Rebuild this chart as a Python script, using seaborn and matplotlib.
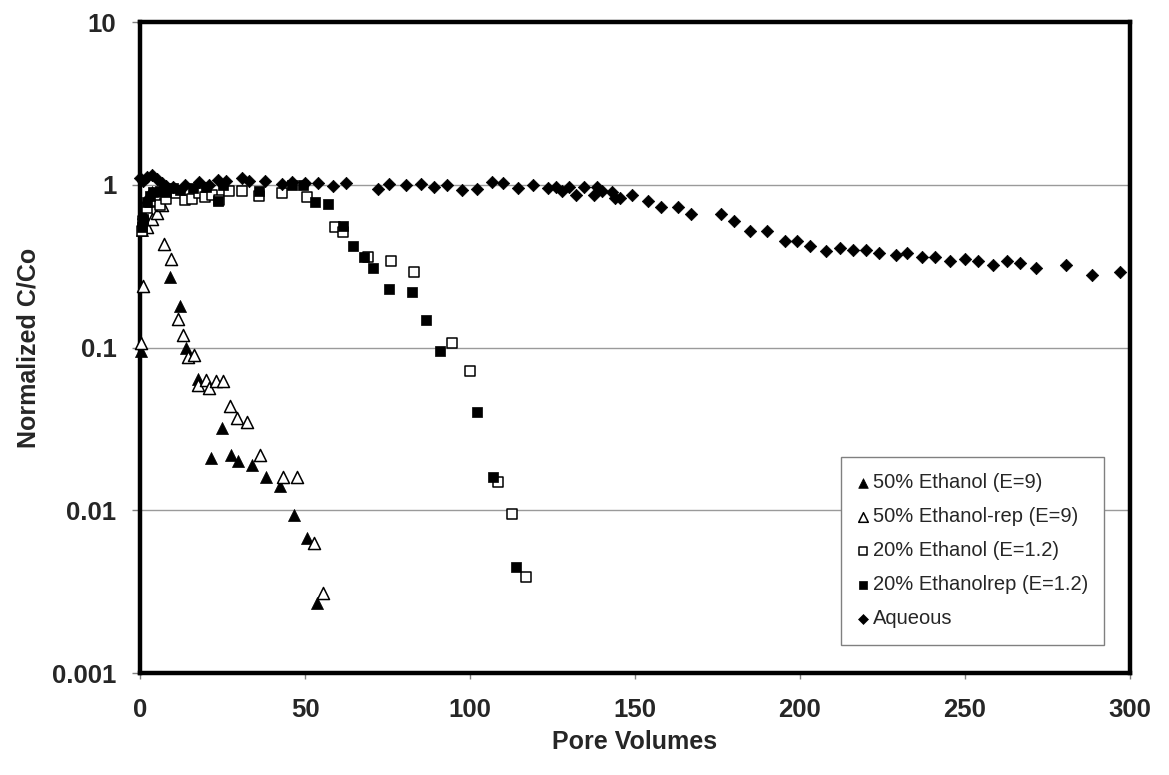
import matplotlib
matplotlib.use("Agg")
import matplotlib.pyplot as plt
import seaborn as sns
import numpy as np

# ---------------- data ----------------
eth50_x = [0.3, 0.6, 1.0, 1.5, 2.5, 3.5, 9.0, 12.0, 14.0, 17.5, 21.5, 24.8, 27.6, 29.7, 34.0,
           38.2, 42.4, 46.7, 50.6, 53.6]
eth50_y = [0.095, 0.53, 0.67, 0.75, 0.85, 0.9, 0.27, 0.18, 0.10, 0.064, 0.021, 0.032, 0.022, 0.020,
           0.019, 0.016, 0.014, 0.0093, 0.0068, 0.0027]

eth50rep_x = [0.3, 1.0, 2.0, 3.5, 5.0, 6.7, 7.2, 9.3, 11.5, 13.0, 14.5, 16.5, 17.5, 20.0, 21.0,
              23.0, 25.0, 27.3, 29.3, 32.4, 36.4, 43.4, 47.5, 52.6, 55.4]
eth50rep_y = [0.107, 0.24, 0.55, 0.62, 0.67, 0.75, 0.43, 0.35, 0.15, 0.12, 0.087, 0.09, 0.059,
              0.063, 0.056, 0.062, 0.062, 0.044, 0.037, 0.035, 0.022, 0.016, 0.016, 0.0063, 0.0031]

eth20_x = [0.5, 1.0, 2.0, 3.0, 4.5, 6.0, 8.0, 11.0, 13.6, 15.8, 18.0, 19.7, 21.8, 24.0, 27.0,
           31.0, 36.0, 43.0, 50.6, 59.0, 61.5, 69.0, 76.0, 83.0, 94.5, 100.0, 108.5, 112.7, 117.0]
eth20_y = [0.52, 0.60, 0.72, 0.78, 0.80, 0.75, 0.82, 0.89, 0.81, 0.82, 0.89, 0.84, 0.86, 0.81,
           0.92, 0.92, 0.85, 0.89, 0.84, 0.55, 0.51, 0.36, 0.34, 0.29, 0.106, 0.072, 0.015,
           0.0095, 0.0039]

eth20rep_x = [0.5, 1.0, 2.0, 3.0, 4.0, 6.0, 8.0, 10.0, 12.0, 16.0, 20.0, 23.6, 25.0, 36.0, 46.0,
              49.5, 53.0, 57.0, 61.5, 64.5, 68.0, 70.7, 75.5, 82.5, 86.7, 91.0, 102.0, 107.0, 114.0]
eth20rep_y = [0.55, 0.62, 0.78, 0.85, 0.90, 0.92, 0.90, 0.95, 0.93, 0.95, 0.97, 0.80, 1.0, 0.91,
              1.0, 1.0, 0.78, 0.76, 0.56, 0.42, 0.36, 0.31, 0.23, 0.22, 0.147, 0.095, 0.040,
              0.016, 0.0045]

aq_x = [0.0, 1.0, 2.0, 3.6, 5.0, 6.7, 8.0, 10.0, 13.6, 18.0, 21.0, 23.6, 26.0, 31.0, 33.0, 38.0,
        43.0, 46.0, 50.0, 54.0, 58.5, 62.5, 72.0, 75.5, 80.5, 85.0, 89.0, 93.0, 97.5, 102.0,
        106.7, 110.0, 114.5, 119.0, 123.6, 126.0, 128.0, 130.0, 132.0, 134.5, 137.6, 138.5,
        140.0, 143.0, 144.0, 145.5, 149.0, 154.0, 158.0, 163.0, 167.0, 176.0, 180.0, 185.0,
        190.0, 195.5, 199.0, 203.0, 208.0, 212.0, 216.0, 220.0, 224.0, 229.0, 232.5, 237.0,
        241.0, 245.5, 250.0, 254.0, 258.5, 262.7, 266.7, 271.5, 280.6, 288.5, 297.0]
aq_y = [1.10, 1.05, 1.12, 1.15, 1.08, 1.03, 0.98, 0.97, 1.00, 1.04, 1.00, 1.07, 1.05, 1.10, 1.05,
        1.06, 1.01, 1.04, 1.02, 1.03, 0.98, 1.03, 0.94, 1.01, 0.99, 1.01, 0.97, 0.99, 0.93, 0.94,
        1.04, 1.03, 0.96, 1.00, 0.96, 0.97, 0.91, 0.97, 0.87, 0.97, 0.86, 0.97, 0.91, 0.90, 0.83,
        0.83, 0.87, 0.79, 0.73, 0.73, 0.66, 0.66, 0.60, 0.52, 0.52, 0.45, 0.45, 0.42, 0.39, 0.41,
        0.40, 0.40, 0.38, 0.37, 0.38, 0.36, 0.36, 0.34, 0.35, 0.34, 0.32, 0.34, 0.33, 0.31, 0.32,
        0.28, 0.29]

labels = ["50% Ethanol (E=9)", "50% Ethanol-rep (E=9)", "20% Ethanol (E=1.2)",
          "20% Ethanolrep (E=1.2)", "Aqueous"]
x_ticks = [0, 50, 100, 150, 200, 250, 300]
y_ticks = [0.001, 0.01, 0.1, 1, 10]
y_ticklabels = ["0.001", "0.01", "0.1", "1", "10"]

# ---------------- style ----------------
sns.set_style("white")
plt.rcParams["font.family"] = ["Liberation Sans", "DejaVu Sans"]

fig = plt.figure(figsize=(11.69, 7.75), dpi=100)
ax = fig.add_axes([0.1198, 0.1316, 0.8468, 0.8400])

ax.set_yscale("log")
ax.set_xlim(0, 300)
ax.set_ylim(0.001, 10)

for yv in [0.01, 0.1, 1]:
    ax.axhline(yv, color="#9a9a9a", lw=1.0, zorder=0)

series = [
    (eth50_x, eth50_y, "^", 75, "black", 0.5),
    (eth50rep_x, eth50rep_y, "^", 75, "white", 1.1),
    (eth20_x, eth20_y, "s", 55, "white", 1.1),
    (eth20rep_x, eth20rep_y, "s", 55, "black", 0.5),
    (aq_x, aq_y, "D", 40, "black", 0.5),
]
for (xs, ys, mk, s, fc, lw), lab in zip(series, labels):
    sns.scatterplot(x=xs, y=ys, marker=mk, s=s, color=fc, edgecolor="black",
                    linewidth=lw, label=lab, ax=ax, zorder=3, clip_on=False)

for sp in ax.spines.values():
    sp.set_visible(True)
    sp.set_color("black")
    sp.set_linewidth(3.2)

ax.set_xticks(x_ticks)
ax.set_xticklabels([str(v) for v in x_ticks])
ax.set_yticks(y_ticks)
ax.set_yticklabels(y_ticklabels)
ax.yaxis.set_minor_locator(matplotlib.ticker.NullLocator())
ax.tick_params(axis="x", direction="out", length=4, width=1, color="#808080", pad=14,
               labelsize=18.5, bottom=True)
ax.tick_params(axis="y", direction="out", length=6, width=1, color="#808080", pad=11,
               labelsize=18.5, left=True)
for t in ax.get_xticklabels() + ax.get_yticklabels():
    t.set_fontweight("bold")

ax.set_xlabel("Pore Volumes", fontsize=18, fontweight="bold", labelpad=6)
ax.set_ylabel("Normalized C/Co", fontsize=18, fontweight="bold", labelpad=8)

leg = ax.legend(loc="upper left", bbox_to_anchor=(0.708, 0.332), fontsize=14.5,
                frameon=True, fancybox=False, framealpha=1, edgecolor="#808080",
                markerscale=0.8, handlelength=0.6, handletextpad=0.2,
                labelspacing=0.75, borderpad=0.8, borderaxespad=0)
leg.get_frame().set_linewidth(1.0)

fig.savefig("out.png", dpi=100)
